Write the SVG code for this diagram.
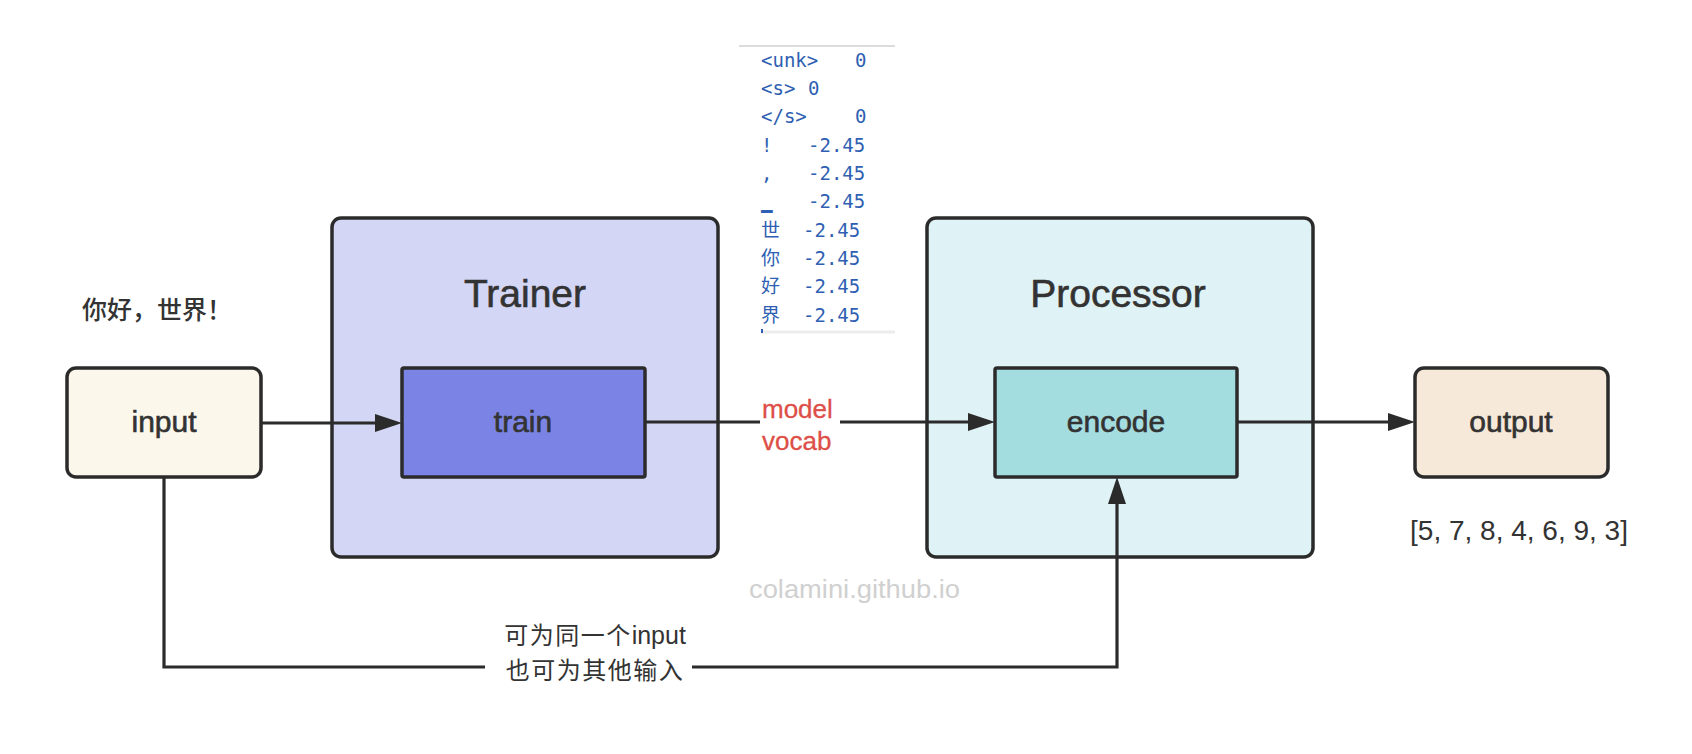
<svg xmlns="http://www.w3.org/2000/svg" width="1692" height="754" viewBox="0 0 1692 754">
<style>
.box{stroke:#2b2b2b;stroke-width:3.5}
.lbl{font-family:"Liberation Sans",Arial,sans-serif;fill:#333;text-anchor:middle;stroke:#333;stroke-width:0.6}
.title{font-size:39px}
.name{font-size:30px}
.conn{fill:none;stroke:#2b2b2b;stroke-width:3.2}
.red{font-family:"Liberation Sans",Arial,sans-serif;font-size:26px;fill:#dd4f47;stroke:#dd4f47;stroke-width:0.3}
.voc{font-family:"DejaVu Sans Mono","Noto Sans CJK SC",monospace;font-size:19px;fill:#2f5fb2}
.cjk{font-family:"Noto Sans CJK SC","Noto Sans",sans-serif;fill:#333}
</style>
<defs>
<marker id="arr" viewBox="0 0 27 18" refX="17" refY="9" markerWidth="27" markerHeight="18" markerUnits="userSpaceOnUse" orient="auto">
<path d="M0,0 L27,9 L0,18 z" fill="#2b2b2b"/>
</marker>
</defs>
<rect width="1692" height="754" fill="#ffffff"/>

<g id="trainer">
<rect class="box" x="332" y="218" width="386" height="339" rx="9" fill="#d4d6f5"/>
<text class="lbl title" x="525" y="307">Trainer</text>
</g>
<g id="processor">
<rect class="box" x="927" y="218" width="386" height="339" rx="9" fill="#dff2f5"/>
<text class="lbl title" x="1118" y="307">Processor</text>
</g>

<g id="connectors">
<path class="conn" d="M261,423 H392" marker-end="url(#arr)"/>
<path class="conn" d="M645,422 H985" marker-end="url(#arr)"/>
<path class="conn" d="M1237,422 H1405" marker-end="url(#arr)"/>
<path class="conn" d="M164,477 V667 H1117 V487" marker-end="url(#arr)"/>
<rect x="760" y="400" width="80" height="58" fill="#ffffff"/>
<text class="red"><tspan x="762" y="418">model</tspan><tspan x="762" y="450">vocab</tspan></text>
<rect x="485" y="650" width="207" height="34" fill="#ffffff"/>
<text class="cjk" font-size="24" text-anchor="middle"><tspan x="595" y="644" letter-spacing="1.5">可为同一个<tspan font-family="Liberation Sans,Arial,sans-serif" font-size="25" letter-spacing="0">input</tspan></tspan><tspan x="595" y="679" letter-spacing="1.5">也可为其他输入</tspan></text>
</g>

<g id="input">
<rect class="box" x="67" y="368" width="194" height="109" rx="9" fill="#fbf7ea"/>
<text class="lbl name" x="164" y="432">input</text>
</g>
<g id="train">
<rect class="box" x="402" y="368" width="243" height="109" rx="2" fill="#7b84e4"/>
<text class="lbl name" x="523" y="432">train</text>
</g>
<g id="encode">
<rect class="box" x="995" y="368" width="242" height="109" rx="2" fill="#a4dde0"/>
<text class="lbl name" x="1116" y="432">encode</text>
</g>
<g id="output">
<rect class="box" x="1415" y="368" width="193" height="109" rx="9" fill="#f7e9da"/>
<text class="lbl name" x="1511" y="432">output</text>
</g>

<g id="input-text">
<text class="cjk" x="82" y="319" font-size="25" font-weight="500">你好，世界！</text>
</g>

<g id="output-text">
<text x="1519" y="540" font-family="Liberation Sans,Arial,sans-serif" font-size="28" fill="#333" text-anchor="middle">[5, 7, 8, 4, 6, 9, 3]</text>
</g>

<g id="vocab">
<line x1="739" y1="46" x2="895" y2="46" stroke="#dcdcdc" stroke-width="2"/>
<line x1="761" y1="332" x2="895" y2="332" stroke="#ececec" stroke-width="3"/>
<rect x="761" y="329" width="2" height="4" fill="#2f5fb2"/>
<text class="voc" y="66.7"><tspan x="761">&lt;unk&gt;</tspan><tspan x="855">0</tspan></text>
<text class="voc" y="95"><tspan x="761">&lt;s&gt;</tspan><tspan x="808">0</tspan></text>
<text class="voc" y="123.3"><tspan x="761">&lt;/s&gt;</tspan><tspan x="855">0</tspan></text>
<text class="voc" y="151.7"><tspan x="761">!</tspan><tspan x="808">-2.45</tspan></text>
<text class="voc" y="180"><tspan x="761">,</tspan><tspan x="808">-2.45</tspan></text>
<text class="voc" y="208.3"><tspan x="761">▁</tspan><tspan x="808">-2.45</tspan></text>
<text class="voc" y="236.7"><tspan x="761">世</tspan><tspan x="803">-2.45</tspan></text>
<text class="voc" y="265"><tspan x="761">你</tspan><tspan x="803">-2.45</tspan></text>
<text class="voc" y="293.3"><tspan x="761">好</tspan><tspan x="803">-2.45</tspan></text>
<text class="voc" y="321.7"><tspan x="761">界</tspan><tspan x="803">-2.45</tspan></text>
</g>

<g id="watermark">
<text x="749" y="598" font-family="Liberation Sans,Arial,sans-serif" font-size="25" fill="#d0d0d0" textLength="211" lengthAdjust="spacingAndGlyphs">colamini.github.io</text>
</g>
</svg>
